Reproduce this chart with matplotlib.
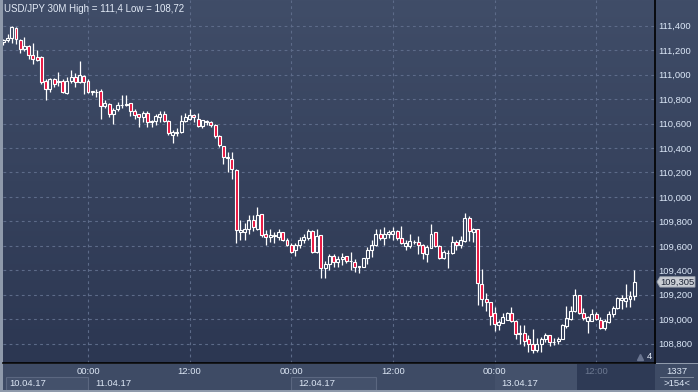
import numpy as np
import matplotlib.pyplot as plt
from matplotlib.patches import Rectangle, Polygon

plt.rcParams['font.family'] = ['Liberation Sans', 'DejaVu Sans']

# 30M candles USD/JPY, 10.04.17 - 13.04.17
opens = [111.27, 111.28, 111.30, 111.38, 111.28, 111.21, 111.23, 111.16, 111.14, 111.14,
         110.95, 110.88, 110.96, 110.94, 110.95, 110.85, 110.95, 110.98, 110.94, 110.99,
         110.95, 110.86, 110.86, 110.87, 110.74, 110.76, 110.68, 110.72, 110.75, 110.755,
         110.77, 110.70, 110.675, 110.65, 110.69, 110.61, 110.62, 110.65, 110.68, 110.62,
         110.51, 110.52, 110.53, 110.62, 110.64, 110.67, 110.64, 110.58, 110.61, 110.61,
         110.59, 110.50, 110.42, 110.315, 110.31, 110.22, 109.71, 109.71, 109.74, 109.81,
         109.74, 109.86, 109.695, 109.67, 109.68, 109.675, 109.71, 109.645, 109.61, 109.565,
         109.605, 109.645, 109.665, 109.72, 109.55, 109.69, 109.42, 109.45, 109.52, 109.47,
         109.49, 109.515, 109.48, 109.47, 109.43, 109.43, 109.50, 109.565, 109.605, 109.70,
         109.665, 109.695, 109.70, 109.72, 109.66, 109.60, 109.60, 109.633, 109.63, 109.61,
         109.535, 109.585, 109.71, 109.60, 109.50, 109.54, 109.54, 109.63, 109.605, 109.64,
         109.83, 109.715, 109.74, 109.29, 109.167, 109.14, 109.05, 108.95, 108.97, 108.995,
         109.05, 108.985, 108.89, 108.89, 108.835, 108.795, 108.75, 108.795, 108.835, 108.87,
         108.815, 108.82, 108.84, 108.945, 109.005, 109.065, 109.195, 109.05, 108.985, 108.985,
         109.04, 108.995, 108.93, 108.98, 109.04, 109.09, 109.16, 109.15, 109.165, 109.19]
highs = [111.29, 111.33, 111.40, 111.39, 111.29, 111.31, 111.24, 111.26, 111.20, 111.15,
         110.96, 110.97, 110.97, 111.02, 110.96, 110.98, 111.04, 111.01, 111.11, 111.00,
         110.96, 110.87, 110.88, 110.88, 110.79, 110.77, 110.73, 110.78, 110.83, 110.83,
         110.77, 110.72, 110.675, 110.70, 110.70, 110.63, 110.68, 110.70, 110.70, 110.63,
         110.55, 110.56, 110.67, 110.69, 110.72, 110.68, 110.69, 110.63, 110.63, 110.62,
         110.60, 110.51, 110.42, 110.37, 110.37, 110.23, 109.81, 109.79, 109.85, 109.85,
         109.92, 109.86, 109.73, 109.74, 109.71, 109.74, 109.715, 109.66, 109.62, 109.625,
         109.67, 109.70, 109.74, 109.73, 109.74, 109.69, 109.48, 109.53, 109.53, 109.515,
         109.54, 109.52, 109.55, 109.49, 109.435, 109.50, 109.59, 109.65, 109.74, 109.74,
         109.75, 109.73, 109.75, 109.73, 109.76, 109.645, 109.695, 109.65, 109.68, 109.615,
         109.61, 109.78, 109.715, 109.605, 109.565, 109.57, 109.68, 109.65, 109.68, 109.87,
         109.84, 109.745, 109.74, 109.41, 109.215, 109.14, 109.10, 108.99, 109.05, 109.06,
         109.10, 108.99, 108.955, 108.955, 108.875, 108.92, 108.85, 108.855, 108.89, 108.875,
         108.85, 108.855, 108.96, 109.105, 109.105, 109.245, 109.20, 109.09, 109.03, 109.08,
         109.055, 109.02, 109.00, 109.065, 109.11, 109.185, 109.20, 109.29, 109.23, 109.40]
lows = [111.24, 111.27, 111.26, 111.25, 111.18, 111.19, 111.13, 111.09, 111.11, 110.92,
        110.79, 110.86, 110.90, 110.91, 110.85, 110.84, 110.93, 110.90, 110.93, 110.84,
        110.85, 110.83, 110.82, 110.64, 110.73, 110.65, 110.60, 110.70, 110.73, 110.74,
        110.66, 110.64, 110.57, 110.61, 110.57, 110.57, 110.59, 110.61, 110.61, 110.51,
        110.44, 110.50, 110.52, 110.61, 110.63, 110.61, 110.57, 110.56, 110.59, 110.57,
        110.48, 110.41, 110.27, 110.20, 110.15, 109.62, 109.65, 109.65, 109.70, 109.72,
        109.73, 109.67, 109.605, 109.63, 109.62, 109.65, 109.64, 109.60, 109.54, 109.52,
        109.58, 109.625, 109.65, 109.54, 109.54, 109.34, 109.34, 109.40, 109.43, 109.43,
        109.44, 109.46, 109.40, 109.39, 109.38, 109.425, 109.455, 109.51, 109.60, 109.65,
        109.605, 109.66, 109.65, 109.65, 109.615, 109.57, 109.585, 109.615, 109.53, 109.49,
        109.47, 109.58, 109.59, 109.49, 109.49, 109.42, 109.535, 109.57, 109.58, 109.63,
        109.64, 109.63, 109.12, 109.11, 109.07, 108.95, 108.90, 108.915, 108.965, 108.99,
        108.98, 108.835, 108.80, 108.78, 108.73, 108.72, 108.73, 108.73, 108.81, 108.78,
        108.79, 108.80, 108.835, 108.93, 108.995, 109.06, 109.04, 108.995, 108.89, 108.985,
        108.995, 108.92, 108.91, 108.965, 109.02, 109.08, 109.08, 109.10, 109.10, 109.155]
closes = [111.28, 111.30, 111.39, 111.29, 111.21, 111.23, 111.16, 111.13, 111.12, 110.94,
          110.88, 110.96, 110.92, 110.95, 110.86, 110.95, 110.98, 110.94, 111.00, 110.94,
          110.86, 110.865, 110.855, 110.74, 110.77, 110.68, 110.71, 110.75, 110.755, 110.76,
          110.70, 110.67, 110.65, 110.69, 110.61, 110.62, 110.66, 110.68, 110.62, 110.52,
          110.53, 110.53, 110.62, 110.65, 110.67, 110.65, 110.58, 110.63, 110.62, 110.59,
          110.50, 110.425, 110.33, 110.33, 110.23, 109.73, 109.73, 109.74, 109.81, 109.755,
          109.85, 109.69, 109.67, 109.69, 109.685, 109.71, 109.646, 109.61, 109.55, 109.605,
          109.645, 109.67, 109.72, 109.55, 109.68, 109.42, 109.45, 109.52, 109.47, 109.49,
          109.51, 109.48, 109.475, 109.43, 109.435, 109.50, 109.565, 109.61, 109.695, 109.665,
          109.70, 109.71, 109.72, 109.665, 109.625, 109.625, 109.64, 109.635, 109.61, 109.54,
          109.59, 109.70, 109.60, 109.50, 109.55, 109.545, 109.63, 109.61, 109.65, 109.83,
          109.72, 109.74, 109.30, 109.165, 109.14, 109.03, 108.96, 108.98, 109.02, 109.05,
          108.985, 108.88, 108.88, 108.82, 108.795, 108.75, 108.795, 108.84, 108.87, 108.815,
          108.815, 108.84, 108.95, 109.01, 109.07, 109.195, 109.05, 109.01, 109.015, 109.04,
          109.005, 108.93, 108.985, 109.04, 109.095, 109.17, 109.17, 109.17, 109.19, 109.305]

price_ticks = [108.8, 109.0, 109.2, 109.4, 109.6, 109.8, 110.0, 110.2, 110.4, 110.6, 110.8, 111.0, 111.2, 111.4]
time_idx = [20, 44, 68, 92, 116, 140]
time_labels = ['00:00', '12:00', '00:00', '12:00', '00:00', '12:00']
dates = ['10.04.17', '11.04.17', '12.04.17', '13.04.17']
date_idx = [0.6, 20.9, 68.8, 116.8]
title = 'USD/JPY 30M High = 111,4 Low = 108,72'

W, H = 698, 392
fig = plt.figure(figsize=(W / 100, H / 100), dpi=100)
fig.patch.set_facecolor('#8f9aab')


def px_axes(x0, y0, x1, y1):
    return fig.add_axes([x0 / W, 1 - y1 / H, (x1 - x0) / W, (y1 - y0) / H])


def gradient(ax, top, bottom):
    c = np.linspace(0, 1, 256)[:, None]
    top = np.array(top) / 255
    bottom = np.array(bottom) / 255
    img = top[None, None, :] * (1 - c[:, :, None]) + bottom[None, None, :] * c[:, :, None]
    ax.imshow(img, extent=[0, 1, 0, 1], transform=ax.transAxes, aspect='auto', zorder=0)


def bare(ax, color):
    ax.set_facecolor(color)
    ax.set_xticks([])
    ax.set_yticks([])
    for s in ax.spines.values():
        s.set_visible(False)


ylo, yhi = 108.642, 111.61
xlo, xhi = -0.07, 153.9

# right price panel
right = px_axes(655, 0, 698, 363)
gradient(right, (64, 77, 104), (44, 55, 82))
right.set_xlim(0, 43)
right.set_ylim(ylo, yhi)
right.axis('off')

main = px_axes(3, 0, 655, 363)
main.set_zorder(2)
main.patch.set_visible(False)
gradient(main, (64, 77, 104), (44, 55, 82))
main.set_xlim(xlo, xhi)
main.set_ylim(ylo, yhi)
for s in ['top', 'left']:
    main.spines[s].set_visible(False)
main.spines['right'].set_color('black')
main.spines['bottom'].set_color('black')
main.spines['right'].set_linewidth(1.2)
main.spines['bottom'].set_linewidth(1.2)
main.yaxis.tick_right()
main.set_yticks(price_ticks)
main.set_yticklabels([f'{v:.3f}'.replace('.', ',') for v in price_ticks])
main.tick_params(axis='y', length=0, pad=2.5, labelsize=6.8, labelcolor='#dce8f8')
main.set_xticks(time_idx)
main.tick_params(axis='x', length=0, labelbottom=False)
main.grid(True, color='#5d6b89', linestyle=(0, (2.5, 3)), linewidth=0.8)

# candles
x = np.arange(len(opens))
o = np.array(opens)
c = np.array(closes)
hi = np.array(highs)
lo = np.array(lows)
top = np.maximum(o, c)
bot = np.minimum(o, c)
main.vlines(x, top, hi, color='white', linewidth=0.9, zorder=3)
main.vlines(x, lo, bot, color='white', linewidth=0.9, zorder=3)
for i in range(len(x)):
    up = c[i] >= o[i]
    main.add_patch(Rectangle((x[i] - 0.35, bot[i]), 0.7, max(top[i] - bot[i], 0.002),
                             facecolor='none' if up else '#e8103c',
                             edgecolor='white', linewidth=0.8, zorder=4))

fig.text(4 / W, 1 - 9 / H, title, fontsize=7, color='#e2eaf6', va='center', ha='left', zorder=10)

# last price marker
last = closes[-1]
dh = 5.2 / 122.3
right.add_patch(Polygon([[2, last], [5, last + dh], [40, last + dh], [40, last - dh], [5, last - dh]],
                        closed=True, facecolor='#c9cdd4', edgecolor='#9aa2ae', linewidth=0.6, zorder=3))
right.text(22.5, last, f'{last:.3f}'.replace('.', ','), fontsize=6.8, color='#1c2436',
           ha='center', va='center', zorder=4)

main.text(152.6, 108.645 + 6 / 122.3, '4', fontsize=6.8, color='#e8eef8', ha='center', va='center', zorder=6)
main.plot([150.4], [108.645 + 5.5 / 122.3], marker='^', markersize=4, color='#6a7590', zorder=5)

# bottom time panel
bottom = px_axes(3, 363.6, 655, 390)
bare(bottom, '#3e4b65')
bottom.set_xlim(xlo, xhi)
bottom.set_ylim(26.4, 0)
bottom.add_patch(Rectangle((135.4, 0), xhi - 135.4, 27, facecolor='#2e3a55', edgecolor='none'))
bottom.add_patch(Rectangle((116.1, 0), 135.4 - 116.1, 27, facecolor='#44516b', edgecolor='none'))
bottom.add_patch(Rectangle((0.6, 13.5), 19.4, 13, facecolor='#44516b', edgecolor='#5b6780', linewidth=0.8))
bottom.add_patch(Rectangle((68.0, 13.5), 20, 13, facecolor='#44516b', edgecolor='#5b6780', linewidth=0.8))
for i, lab in zip(time_idx, time_labels):
    col = '#6c7890' if i > 135 else '#dce6f4'
    bottom.text(i, 7.5, lab, fontsize=6.8, color=col, ha='center', va='center')
for i, lab in zip(date_idx, dates):
    bottom.text(i + 0.9, 20, lab, fontsize=6.8, color='#dce6f4', ha='left', va='center')

# corner panel
corner = px_axes(655, 363.6, 698, 390)
bare(corner, '#3e4b65')
corner.set_xlim(0, 43)
corner.set_ylim(26.4, 0)
corner.text(22, 7.5, '1337', fontsize=6.8, color='#dce6f4', ha='center', va='center')
corner.plot([5, 38], [13.5, 13.5], color='#8a94a6', linewidth=0.6)
corner.text(22, 20, '>154<', fontsize=6.8, color='#dce6f4', ha='center', va='center')
corner.set_xlim(0, 43)

fig.savefig('out.png', dpi=100, facecolor=fig.get_facecolor())
